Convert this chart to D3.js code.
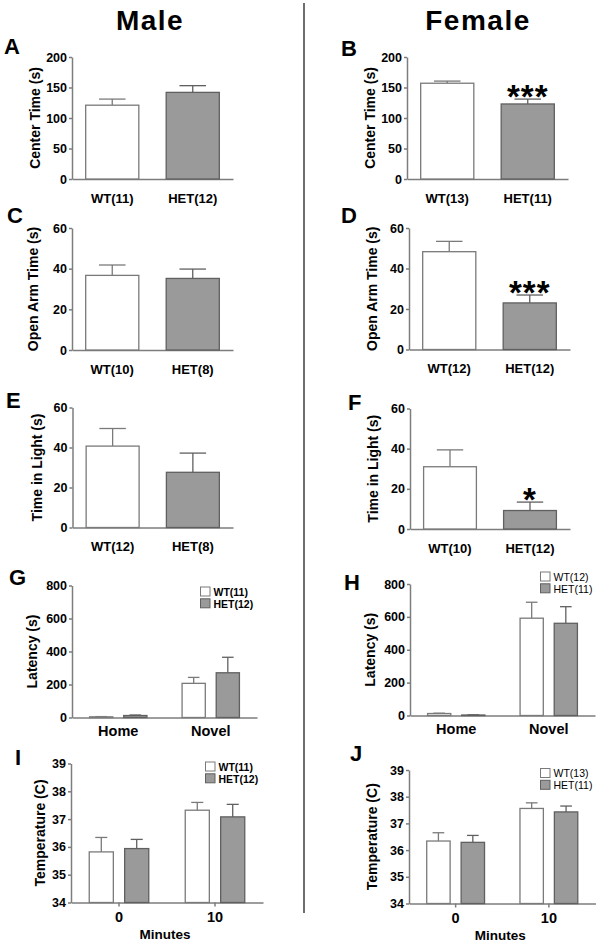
<!DOCTYPE html>
<html><head><meta charset="utf-8">
<script src="https://cdn.jsdelivr.net/npm/d3@7"></script>
<style>
html,body{margin:0;padding:0;background:#fff;}
svg{display:block;font-family:"Liberation Sans",Arial,Helvetica,sans-serif;}
</style></head>
<body>
<script>
// ---------------- DATA ----------------
const columnTitles = ["Male", "Female"];

// Panels A-F: two bars each (WT, HET)
const catsA = ["WT(11)", "HET(12)"]; const meansA = [121, 142];  const semA = [10, 11];
const catsB = ["WT(13)", "HET(11)"]; const meansB = [157, 123];  const semB = [3.5, 8];
const catsC = ["WT(10)", "HET(8)"];  const meansC = [36.7, 35.2]; const semC = [5.1, 4.6];
const catsD = ["WT(12)", "HET(12)"]; const meansD = [48.3, 23.0]; const semD = [5.1, 3.9];
const catsE = ["WT(12)", "HET(8)"];  const meansE = [40.7, 27.6]; const semE = [8.8, 9.6];
const catsF = ["WT(10)", "HET(12)"]; const meansF = [31.0, 9.2];  const semF = [8.4, 4.2];
const starsA = ["", ""]; const starsB = ["", "***"];
const starsC = ["", ""]; const starsD = ["", "***"];
const starsE = ["", ""]; const starsF = ["", "*"];

const ticksCenter = [0, 50, 100, 150, 200];
const ticksOpenArm = [0, 20, 40, 60];
const ticksLight = [0, 20, 40, 60];
const ticksLatency = [0, 200, 400, 600, 800];
const ticksTemp = [34, 35, 36, 37, 38, 39];

// Panels G-J: grouped bars
const groupsLatency = ["Home", "Novel"];
const groupsTemp = ["0", "10"];
const seriesKeys = ["WT", "HET"];
const legendG = ["WT(11)", "HET(12)"]; const wtG = [4, 207];  const wtSemG = [1.5, 36]; const hetG = [12, 271]; const hetSemG = [3, 94];
const legendH = ["WT(12)", "HET(11)"]; const wtH = [12, 592]; const wtSemH = [2, 97];  const hetH = [3, 561];  const hetSemH = [1, 101];
const legendI = ["WT(11)", "HET(12)"]; const wtI = [35.82, 37.32]; const wtSemI = [0.52, 0.28]; const hetI = [35.94, 37.08]; const hetSemI = [0.33, 0.45];
const legendJ = ["WT(13)", "HET(11)"]; const wtJ = [36.34, 37.56]; const wtSemJ = [0.31, 0.21]; const hetJ = [36.29, 37.43]; const hetSemJ = [0.26, 0.22];

const yTitles = {A:"Center Time (s)",B:"Center Time (s)",C:"Open Arm Time (s)",D:"Open Arm Time (s)",
  E:"Time in Light (s)",F:"Time in Light (s)",G:"Latency (s)",H:"Latency (s)",I:"Temperature (C)",J:"Temperature (C)"};
const xTitleTemp = "Minutes";

// ---------------- STYLE / LAYOUT ----------------
const W = 601, H = 945;
const FILL = {WT:"#ffffff", HET:"#9a9a9a"};
const STROKE = {WT:"#7a7a7a", HET:"#606060"};
const AXIS = "#7d7d7d";

const svg = d3.select("body").append("svg").attr("width", W).attr("height", H);
svg.append("rect").attr("width", W).attr("height", H).attr("fill", "#fff");

// column titles
svg.append("text").attr("x", 150).attr("y", 30).attr("text-anchor","middle")
  .attr("font-size", 28).attr("font-weight","bold").attr("letter-spacing", 1.5).text(columnTitles[0]);
svg.append("text").attr("x", 478).attr("y", 30).attr("text-anchor","middle")
  .attr("font-size", 28).attr("font-weight","bold").attr("letter-spacing", 1.5).text(columnTitles[1]);
// divider
svg.append("line").attr("x1",304).attr("x2",304).attr("y1",3).attr("y2",913)
  .attr("stroke","#6e6e6e").attr("stroke-width",2);

function styleAxis(g){
  g.select(".domain").attr("stroke", AXIS).attr("stroke-width", 1.5);
  g.selectAll(".tick line").attr("stroke", AXIS).attr("stroke-width", 1.5);
  g.selectAll(".tick text").attr("fill","#000").attr("font-weight","bold")
   .attr("font-family",'"Liberation Sans",Arial,sans-serif');
}

function panelFrame(L, yDomain, ticks){
  const y = d3.scaleLinear().domain(yDomain).range([L.bottom, L.top]);
  const gy = svg.append("g").attr("transform",`translate(${L.left},0)`)
    .call(d3.axisLeft(y).tickValues(ticks).tickFormat(d3.format("d"))
      .tickSize(3).tickSizeOuter(0).tickPadding(2));
  gy.selectAll(".tick text").attr("font-size", 12.5);
  styleAxis(gy);
  // letter
  svg.append("text").attr("x", L.lx).attr("y", L.ly).attr("font-size", 22)
    .attr("font-weight","bold").text(L.letter);
  // y title
  svg.append("text").attr("transform",`translate(${L.tx},${(L.top+L.bottom)/2}) rotate(-90)`)
    .attr("text-anchor","middle").attr("dominant-baseline","central")
    .attr("font-size", 14).attr("font-weight","bold").text(yTitles[L.letter]);
  return y;
}

function errBar(x0, bw, yTop, yErr, stroke){
  const cx = x0 + bw/2, cw = bw*0.5;
  svg.append("line").attr("x1",cx).attr("x2",cx).attr("y1",yTop).attr("y2",yErr)
    .attr("stroke",stroke).attr("stroke-width",1.3);
  svg.append("line").attr("x1",cx-cw/2).attr("x2",cx+cw/2).attr("y1",yErr).attr("y2",yErr)
    .attr("stroke",stroke).attr("stroke-width",1.3);
}

function simplePanel(L, cats, means, sems, stars, ticks){
  const y = panelFrame(L, [ticks[0], ticks[ticks.length-1]], ticks);
  const x = d3.scaleBand().domain(cats).range([L.left, L.right]).paddingInner(0.34).paddingOuter(0.17);
  const gx = svg.append("g").attr("transform",`translate(0,${L.bottom})`)
    .call(d3.axisBottom(x).tickSize(0).tickSizeOuter(0).tickPadding(14.5));
  gx.selectAll(".tick text").attr("font-size", 13);
  styleAxis(gx);
  cats.forEach((c,i)=>{
    const key = seriesKeys[i];
    errBar(x(c), x.bandwidth(), y(means[i]), y(means[i]+sems[i]), STROKE[key]);
    svg.append("rect").attr("x", x(c)).attr("width", x.bandwidth())
      .attr("y", y(means[i])).attr("height", L.bottom - y(means[i]))
      .attr("fill", FILL[key]).attr("stroke", STROKE[key]).attr("stroke-width", 1.3);
    if (stars[i]) {
      svg.append("text").attr("x", x(c)+x.bandwidth()/2).attr("y", y(means[i]+sems[i]) + 9)
        .attr("text-anchor","middle").attr("font-size", 33).attr("font-weight","bold")
        .attr("letter-spacing", 1).text(stars[i]);
    }
  });
}

function groupPanel(L, groups, wt, wtSem, het, hetSem, legend, ticks, xTitle){
  const y = panelFrame(L, [ticks[0], ticks[ticks.length-1]], ticks);
  const x0 = d3.scaleBand().domain(groups).range([L.left, L.right]).paddingInner(0.38).paddingOuter(0.19);
  const x1 = d3.scaleBand().domain(seriesKeys).range([0, x0.bandwidth()]).paddingInner(0.32);
  const gx = svg.append("g").attr("transform",`translate(0,${L.bottom})`)
    .call(d3.axisBottom(x0).tickSize(L.xtick).tickSizeOuter(0).tickPadding(L.xtick ? 5 : 8));
  gx.selectAll(".tick text").attr("font-size", L.xfs);
  styleAxis(gx);
  const vals = {WT: wt, HET: het}, sems = {WT: wtSem, HET: hetSem};
  groups.forEach((g,gi)=>{
    seriesKeys.forEach(k=>{
      const bx = x0(g) + x1(k), bw = x1.bandwidth();
      const v = vals[k][gi], s = sems[k][gi];
      errBar(bx, bw, y(v), y(v+s), STROKE[k]);
      svg.append("rect").attr("x", bx).attr("width", bw).attr("y", y(v))
        .attr("height", L.bottom - y(v)).attr("fill", FILL[k])
        .attr("stroke", STROKE[k]).attr("stroke-width", 1.3);
    });
  });
  // legend
  seriesKeys.forEach((k,i)=>{
    const ly = L.legY + i*11.8;
    svg.append("rect").attr("x", L.legX).attr("y", ly).attr("width", 9.5).attr("height", 9)
      .attr("fill", FILL[k]).attr("stroke", STROKE[k]).attr("stroke-width", 1);
    svg.append("text").attr("x", L.legX + 13).attr("y", ly + 8.8).attr("font-size", 10.5)
      .attr("font-weight", L.legW).text(legend[i]);
  });
  if (xTitle) {
    svg.append("text").attr("x", (L.left+L.right)/2 - 2).attr("y", L.bottom + 36.5)
      .attr("text-anchor","middle").attr("font-size", 13.5).attr("font-weight","bold").text(xTitle);
  }
}

simplePanel({letter:"A", left:72, right:233, top:57, bottom:179, lx:4, ly:54, tx:35}, catsA, meansA, semA, starsA, ticksCenter);
simplePanel({letter:"B", left:407, right:568, top:57, bottom:179, lx:341, ly:56, tx:370}, catsB, meansB, semB, starsB, ticksCenter);
simplePanel({letter:"C", left:72, right:233, top:228, bottom:350, lx:7, ly:223, tx:33}, catsC, meansC, semC, starsC, ticksOpenArm);
simplePanel({letter:"D", left:409, right:570, top:228, bottom:349.5, lx:341, ly:223, tx:372}, catsD, meansD, semD, starsD, ticksOpenArm);
simplePanel({letter:"E", left:72.5, right:233, top:407.5, bottom:527.5, lx:6, ly:408, tx:37}, catsE, meansE, semE, starsE, ticksLight);
simplePanel({letter:"F", left:410, right:570, top:408.5, bottom:529, lx:348, ly:410, tx:373}, catsF, meansF, semF, starsF, ticksLight);

groupPanel({letter:"G", left:72, right:257, top:585.5, bottom:717.5, lx:9, ly:585, tx:32, xtick:0, xfs:14.5, legX:200.5, legY:587, legW:"bold"},
  groupsLatency, wtG, wtSemG, hetG, hetSemG, legendG, ticksLatency, null);
groupPanel({letter:"H", left:410, right:595, top:584, bottom:715.5, lx:344, ly:590, tx:370, xtick:0, xfs:14.5, legX:540.5, legY:572, legW:"normal"},
  groupsLatency, wtH, wtSemH, hetH, hetSemH, legendH, ticksLatency, null);
groupPanel({letter:"I", left:71, right:263, top:763.5, bottom:902.5, lx:15, ly:765, tx:40, xtick:4, xfs:14.5, legX:205.5, legY:762, legW:"bold"},
  groupsTemp, wtI, wtSemI, hetI, hetSemI, legendI, ticksTemp, xTitleTemp);
groupPanel({letter:"J", left:409, right:595.5, top:770, bottom:903.5, lx:350, ly:761, tx:372, xtick:4, xfs:14.5, legX:540.5, legY:768.5, legW:"normal"},
  groupsTemp, wtJ, wtSemJ, hetJ, hetSemJ, legendJ, ticksTemp, xTitleTemp);
</script>
</body></html>
